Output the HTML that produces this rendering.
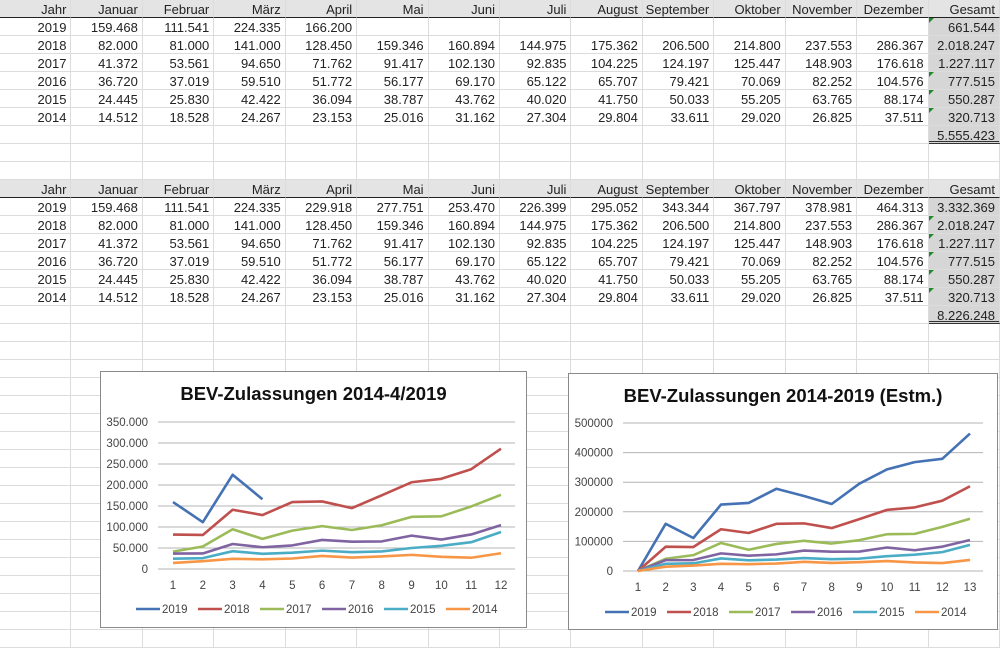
<!DOCTYPE html>
<html><head><meta charset="utf-8">
<style>
html,body{margin:0;padding:0;background:#fff;width:1000px;height:646px;overflow:hidden;font-family:"Liberation Sans",sans-serif;}
#sheet{position:absolute;left:0;top:0;width:1000px;height:646px;}
.c{position:absolute;box-sizing:border-box;border-right:1px solid #dcdcdc;border-bottom:1px solid #dcdcdc;font-size:13px;color:#222;text-align:right;padding-right:4px;line-height:19px;white-space:nowrap;}
.h{background:#e4e4e4;border-bottom:1px solid #222;}
.g{background:#d6d6d6;}
.tri{position:absolute;left:0;top:0;width:0;height:0;border-top:5px solid #1e8a2e;border-right:5px solid transparent;}
.dbl{border-bottom:3px double #333;}
svg text{font-family:"Liberation Sans",sans-serif;}
</style></head>
<body>
<div id="sheet"></div>
<svg id="charts" width="1000" height="646" style="position:absolute;left:0;top:0"></svg>
<script>
const headers=["Jahr","Januar","Februar","März","April","Mai","Juni","Juli","August","September","Oktober","November","Dezember","Gesamt"];
const years=["2019","2018","2017","2016","2015","2014"];
const t1=[
["159.468","111.541","224.335","166.200","","","","","","","","","661.544"],
["82.000","81.000","141.000","128.450","159.346","160.894","144.975","175.362","206.500","214.800","237.553","286.367","2.018.247"],
["41.372","53.561","94.650","71.762","91.417","102.130","92.835","104.225","124.197","125.447","148.903","176.618","1.227.117"],
["36.720","37.019","59.510","51.772","56.177","69.170","65.122","65.707","79.421","70.069","82.252","104.576","777.515"],
["24.445","25.830","42.422","36.094","38.787","43.762","40.020","41.750","50.033","55.205","63.765","88.174","550.287"],
["14.512","18.528","24.267","23.153","25.016","31.162","27.304","29.804","33.611","29.020","26.825","37.511","320.713"]];
const t2=[
["159.468","111.541","224.335","229.918","277.751","253.470","226.399","295.052","343.344","367.797","378.981","464.313","3.332.369"]].concat(t1.slice(1));
const total1="5.555.423", total2="8.226.248";
const sheet=document.getElementById('sheet');
const CW=1000/14, RH=18;
function cell(r,c,txt,cls,name){
  const d=document.createElement('div');
  d.className='c '+(cls||'');
  d.style.left=(c*CW)+'px';d.style.top=(r*RH)+'px';d.style.width=CW+'px';d.style.height=RH+'px';
  d.textContent=txt;
  
  
  sheet.appendChild(d);return d;
}
for(let r=0;r<36;r++)for(let c=0;c<14;c++){
  let txt='',cls='',name='empty-cell';
  const blk=(r<9)?{h:0,data:t1,tot:total1}:(r>=10&&r<19?{h:10,data:t2,tot:total2}:null);
  if(blk){
    const rr=r-blk.h;
    if(rr===0){txt=headers[c];cls='h';name='header-'+headers[c].toLowerCase();}
    else if(rr>=1&&rr<=6){txt=c===0?years[rr-1]:blk.data[rr-1][c-1];name=c===0?'year-cell':(c===13?'total-cell':'value-cell');if(c===13)cls='g';}
    else if(rr===7&&c===13){txt=blk.tot;cls='g dbl';name='grand-total';}
  }
  const d=cell(r,c,txt,cls,name);
  if(blk&&c===13){const rr=r-blk.h;
    const tri=(blk.h===0)?[1,4,5,6]:[2,3,4,5,6];
    if(tri.includes(rr)){const t=document.createElement('div');t.className='tri';d.appendChild(t);}
  }
}
</script>
<script>
const seriesNames=["2019","2018","2017","2016","2015","2014"];
const colors=["#4472b4","#c0504d","#9bbb59","#8064a2","#4bacc6","#f79646"];
const c1_2019=[159468,111541,224335,166200];
const c1_2018=[82000,81000,141000,128450,159346,160894,144975,175362,206500,214800,237553,286367];
const c1_2017=[41372,53561,94650,71762,91417,102130,92835,104225,124197,125447,148903,176618];
const c1_2016=[36720,37019,59510,51772,56177,69170,65122,65707,79421,70069,82252,104576];
const c1_2015=[24445,25830,42422,36094,38787,43762,40020,41750,50033,55205,63765,88174];
const c1_2014=[14512,18528,24267,23153,25016,31162,27304,29804,33611,29020,26825,37511];
const c2_2019=[0,159468,111541,224335,229918,277751,253470,226399,295052,343344,367797,378981,464313];
const c2_2018=[0].concat(c1_2018);
const c2_2017=[0].concat(c1_2017);
const c2_2016=[0].concat(c1_2016);
const c2_2015=[0].concat(c1_2015);
const c2_2014=[0].concat(c1_2014);
const ticks1=["0","50.000","100.000","150.000","200.000","250.000","300.000","350.000"];
const ticks2=["0","100000","200000","300000","400000","500000"];
const svg=document.getElementById('charts');
const NS='http://www.w3.org/2000/svg';
function el(tag,attrs,parent){const e=document.createElementNS(NS,tag);for(const k in attrs)e.setAttribute(k,attrs[k]);(parent||svg).appendChild(e);return e;}
function chart(o){
  const g=el('g',{});
  
  
  const bg=el('rect',{x:o.x,y:o.y,width:o.w,height:o.h,fill:'#fff',stroke:'#8a8a8a','stroke-width':1},g);
  
  
  const ti=el('text',{x:o.x+o.w/2,y:o.titleY,'text-anchor':'middle','font-size':18.5,'font-weight':'bold',fill:'#111'},g);ti.textContent=o.title;
  
  
  const ys=v=>o.y0-(v/o.max)*(o.y0-o.yTop);
  const xs=i=>o.xa+i*(o.xb-o.xa)/(o.n-1);
  o.ticks.forEach((t,i)=>{const v=i*o.step;const y=ys(v);
    const l=el('line',{x1:o.gx1,x2:o.gx2,y1:y,y2:y,stroke:'#b4b4b4','stroke-width':1},g);
    
    
    const tx=el('text',{x:o.lx,y:y+4,'text-anchor':'end','font-size':11.5,fill:'#444'},g);tx.textContent=t;
    
    
  });
  for(let i=0;i<o.n;i++){const tx=el('text',{x:xs(i),y:o.xlY,'text-anchor':'middle','font-size':11.5,fill:'#444'},g);tx.textContent=String(i+1);
    
    }
  o.series.forEach((s,k)=>{
    const p=el('polyline',{points:s.map((v,i)=>xs(i)+','+ys(v)).join(' '),fill:'none',stroke:colors[k],'stroke-width':2.6,'stroke-linejoin':'round'},g);
    
    
    const lx=o.legX+k*62;
    const ll=el('line',{x1:lx,x2:lx+24,y1:o.legY,y2:o.legY,stroke:colors[k],'stroke-width':2.6},g);
    
    
    const lt=el('text',{x:lx+26,y:o.legY+4,'font-size':11.5,fill:'#444'},g);lt.textContent=seriesNames[k];
    
    
  });
}
chart({name:'chart-monthly',x:100.5,y:371.5,w:426,h:256,title:'BEV-Zulassungen 2014-4/2019',titleY:400,
  y0:569,yTop:422,max:350000,step:50000,ticks:ticks1,gx1:158,gx2:515,lx:148,xa:173,xb:501,n:12,xlY:589,
  series:[c1_2019,c1_2018,c1_2017,c1_2016,c1_2015,c1_2014],legX:136,legY:609});
chart({name:'chart-estimate',x:568.5,y:373.5,w:429,h:256,title:'BEV-Zulassungen 2014-2019 (Estm.)',titleY:402,
  y0:571,yTop:423,max:500000,step:100000,ticks:ticks2,gx1:623,gx2:983,lx:613,xa:638,xb:970,n:13,xlY:591,
  series:[c2_2019,c2_2018,c2_2017,c2_2016,c2_2015,c2_2014],legX:605,legY:612});
</script>
</body></html>
